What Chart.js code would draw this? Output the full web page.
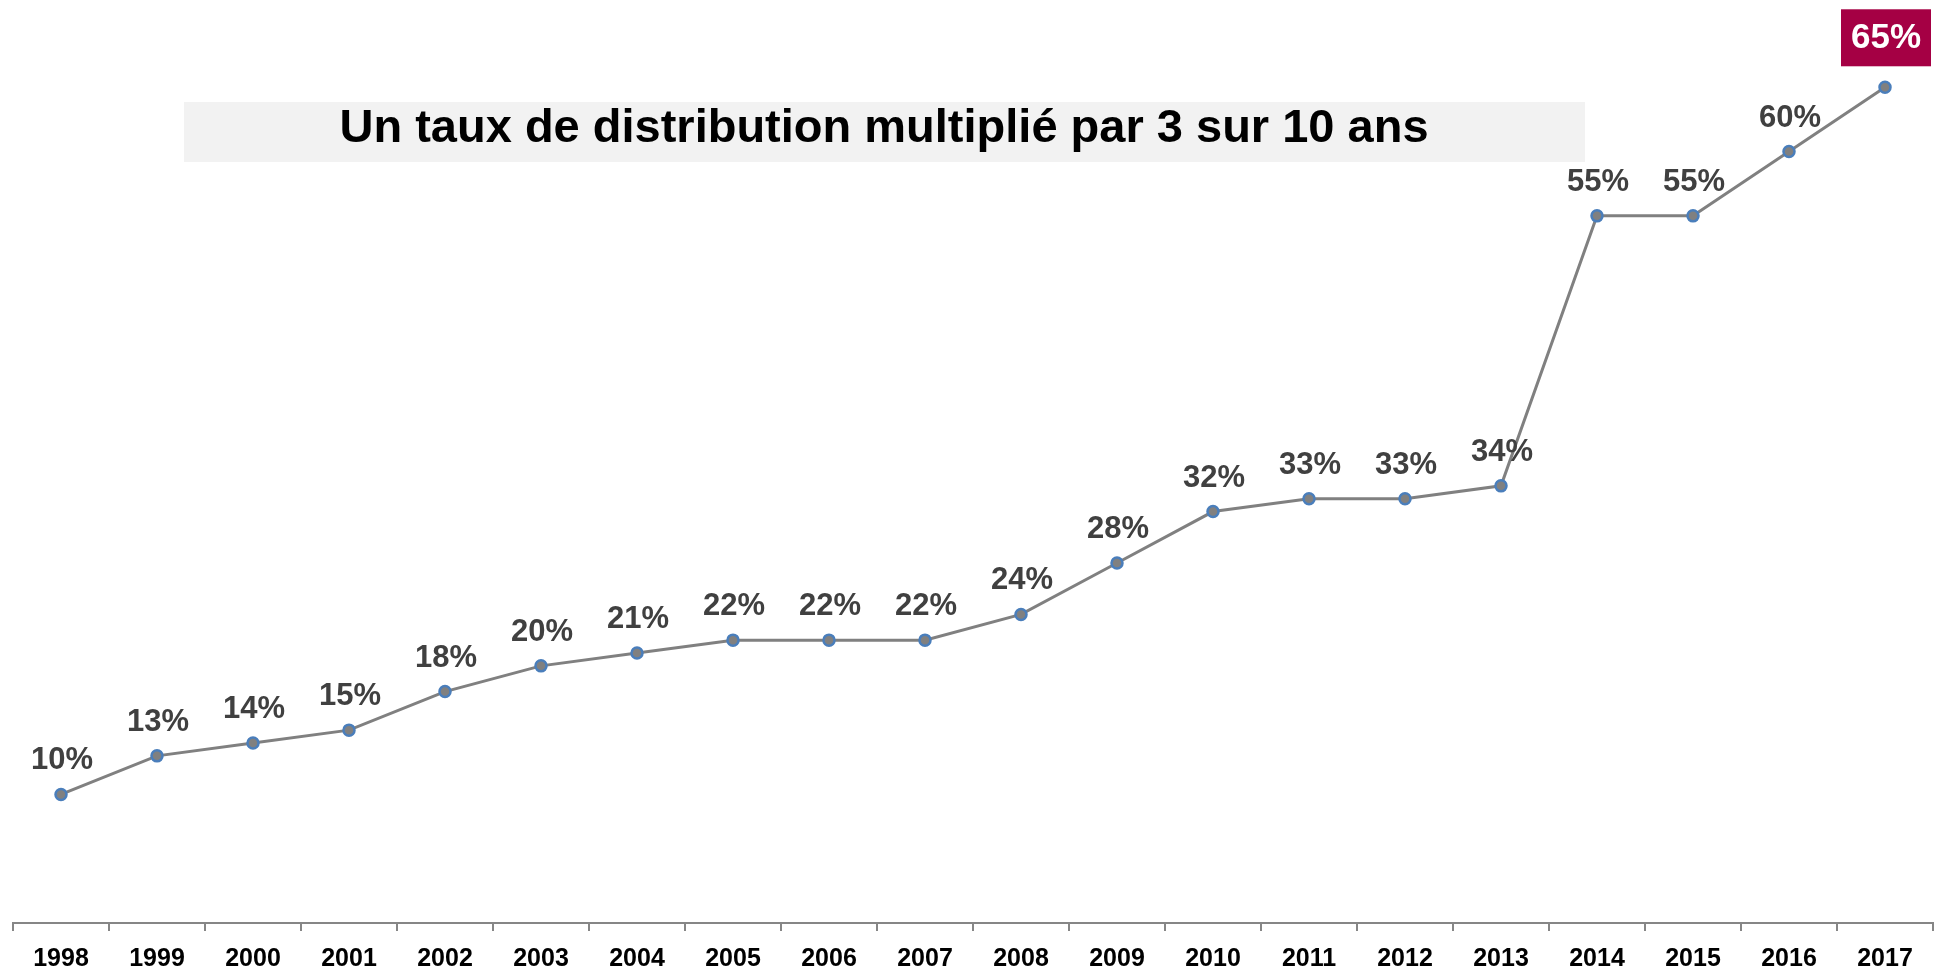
<!DOCTYPE html>
<html>
<head>
<meta charset="utf-8">
<script src="https://cdn.jsdelivr.net/npm/chart.js@4/dist/chart.umd.min.js"></script>
<style>
html,body{margin:0;padding:0;background:#fff;}
#wrap{width:1945px;height:973px;position:relative;}
</style>
</head>
<body>
<div id="wrap"><canvas id="c" width="1945" height="973"></canvas></div>
<script>
const years = ['1998','1999','2000','2001','2002','2003','2004','2005','2006','2007','2008','2009','2010','2011','2012','2013','2014','2015','2016','2017'];
const rates = [10,13,14,15,18,20,21,22,22,22,24,28,32,33,33,34,55,55,60,65];
const titleText = 'Un taux de distribution multiplié par 3 sur 10 ans';
const highlightYear = '2017';

const FONT = '"Liberation Sans", Arial, sans-serif';

const labelsPlugin = {
  id: 'labelsPlugin',
  afterDatasetsDraw(chart) {
    const ctx = chart.ctx;
    const meta = chart.getDatasetMeta(0);
    ctx.save();
    meta.data.forEach((pt, i) => {
      const txt = rates[i] + '%';
      if (years[i] === highlightYear) {
        ctx.font = 'bold 35px ' + FONT;
        const bw = 90, bh = 57;
        const bx = pt.x - bw / 2 + 1, by = pt.y - 78;
        ctx.fillStyle = '#a50044';
        ctx.fillRect(bx, by, bw, bh);
        ctx.fillStyle = '#ffffff';
        ctx.textAlign = 'center';
        ctx.textBaseline = 'middle';
        ctx.fillText(txt, bx + bw / 2, by + bh / 2 + 1);
      } else {
        ctx.font = 'bold 31px ' + FONT;
        ctx.fillStyle = '#404040';
        ctx.textAlign = 'center';
        ctx.textBaseline = 'alphabetic';
        ctx.fillText(txt, pt.x + 1, pt.y - 25);
      }
    });
    ctx.restore();
  }
};

const titlePlugin = {
  id: 'titlePlugin',
  beforeDatasetsDraw(chart) {
    const ctx = chart.ctx;
    ctx.save();
    ctx.fillStyle = '#f2f2f2';
    ctx.fillRect(184, 102, 1401, 60);
    ctx.fillStyle = '#000000';
    ctx.font = 'bold 47px ' + FONT;
    ctx.textAlign = 'center';
    ctx.textBaseline = 'alphabetic';
    ctx.fillText(titleText, 884, 142);
    ctx.restore();
  }
};

new Chart(document.getElementById('c'), {
  type: 'line',
  data: {
    labels: years,
    datasets: [{
      data: rates,
      borderColor: '#808080',
      borderWidth: 3,
      tension: 0,
      pointRadius: 5.5,
      pointHoverRadius: 5.5,
      pointBackgroundColor: '#808080',
      pointBorderColor: '#4a7ebb',
      pointBorderWidth: 2.5,
      clip: false
    }]
  },
  options: {
    responsive: false,
    animation: false,
    events: [],
    layout: { padding: { top: 23, left: 13, right: 12, bottom: -14 } },
    plugins: { legend: { display: false }, tooltip: { enabled: false }, title: { display: false } },
    scales: {
      x: {
        type: 'category',
        offset: true,
        border: { display: true, color: '#868686', width: 2 },
        grid: { display: true, drawOnChartArea: false, offset: true, tickLength: 8, color: '#868686', lineWidth: 2 },
        ticks: { color: '#000000', font: { family: FONT, size: 25, weight: 'bold' }, padding: 13, maxRotation: 0, autoSkip: false }
      },
      y: { display: false, min: 0, max: 70 }
    }
  },
  plugins: [titlePlugin, labelsPlugin]
});
</script>
</body>
</html>
